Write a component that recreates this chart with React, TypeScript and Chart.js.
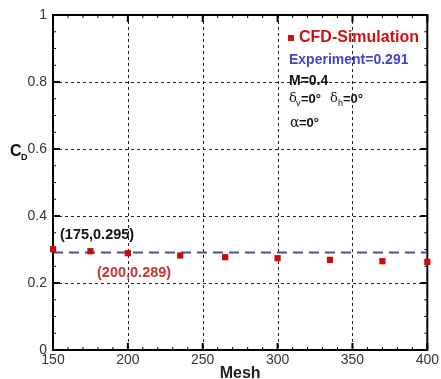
import React, { useEffect, useRef } from "react";
import { Chart, registerables } from "chart.js";

Chart.register(...registerables);

const meshValues = [150, 175, 200, 235, 265, 300, 335, 370, 400];
const cdValues = [0.301, 0.295, 0.289, 0.282, 0.277, 0.274, 0.269, 0.265, 0.263];
const experimentValue = 0.291;
const xTickValues = [150, 200, 250, 300, 350, 400];
const yTickValues = [0, 0.2, 0.4, 0.6, 0.8, 1];
const noteLines = ["M=0.4", "δv=0° δh=0°", "α=0°"];

const FONT = "Arial, 'Liberation Sans', Helvetica, sans-serif";

const framePlugin = {
  id: "frame",
  beforeDatasetsDraw(chart: any) {
    const { ctx, chartArea: a, scales } = chart;
    const xs = scales.x;
    const ys = scales.y;
    ctx.save();
    // dotted grid
    ctx.strokeStyle = "#222";
    ctx.lineWidth = 1;
    ctx.setLineDash([3, 3]);
    xTickValues.slice(1, -1).forEach((v) => {
      const px = Math.round(xs.getPixelForValue(v)) + 0.5;
      ctx.beginPath();
      ctx.moveTo(px, a.top);
      ctx.lineTo(px, a.bottom);
      ctx.stroke();
    });
    yTickValues.slice(1, -1).forEach((v) => {
      const py = Math.round(ys.getPixelForValue(v)) + 0.5;
      ctx.beginPath();
      ctx.moveTo(a.left, py);
      ctx.lineTo(a.right, py);
      ctx.stroke();
    });
    ctx.setLineDash([]);
    // ticks
    ctx.strokeStyle = "#000";
    for (let v = 150; v <= 400; v += 10) {
      const major = (v - 150) % 50 === 0;
      const len = major ? 7 : 3;
      ctx.lineWidth = major ? 2 : 1;
      const px = xs.getPixelForValue(v);
      ctx.beginPath();
      ctx.moveTo(px, a.bottom);
      ctx.lineTo(px, a.bottom - len);
      ctx.moveTo(px, a.top);
      ctx.lineTo(px, a.top + len);
      ctx.stroke();
    }
    for (let i = 0; i <= 20; i++) {
      const v = i * 0.05;
      const major = i % 4 === 0;
      const len = major ? 7 : 3;
      ctx.lineWidth = major ? 2 : 1;
      const py = ys.getPixelForValue(v);
      ctx.beginPath();
      ctx.moveTo(a.left, py);
      ctx.lineTo(a.left + len, py);
      ctx.moveTo(a.right, py);
      ctx.lineTo(a.right - len, py);
      ctx.stroke();
    }
    // frame
    ctx.lineWidth = 2;
    ctx.strokeRect(a.left, a.top, a.right - a.left, a.bottom - a.top);
    ctx.restore();
  },
  afterDraw(chart: any) {
    const { ctx } = chart;
    ctx.save();
    ctx.textBaseline = "middle";
    ctx.textAlign = "left";
    // C_D title
    ctx.fillStyle = "#111";
    ctx.font = `bold 16px ${FONT}`;
    ctx.fillText("C", 10, 152);
    ctx.font = `bold 9px ${FONT}`;
    ctx.fillText("D", 21, 158);
    // legend
    ctx.fillStyle = "#cc1111";
    ctx.fillRect(288, 35, 6, 6);
    ctx.font = `bold 16px ${FONT}`;
    ctx.fillText("CFD-Simulation", 299, 38);
    ctx.fillStyle = "#4444cc";
    ctx.font = `bold 14px ${FONT}`;
    ctx.fillText("Experiment=0.291", 289, 60);
    ctx.fillStyle = "#111";
    ctx.fillText(noteLines[0], 289, 81);
    // delta line
    ctx.font = `13px 'DejaVu Serif', serif`;
    ctx.fillText("δ", 289, 99);
    ctx.font = `9px ${FONT}`;
    ctx.fillText("v", 296, 104);
    ctx.font = `bold 13px ${FONT}`;
    ctx.fillText("=0°", 301, 99);
    ctx.font = `13px 'DejaVu Serif', serif`;
    ctx.fillText("δ", 330, 99);
    ctx.font = `9px ${FONT}`;
    ctx.fillText("h", 338, 104);
    ctx.font = `bold 13px ${FONT}`;
    ctx.fillText("=0°", 343, 99);
    ctx.font = `14px 'DejaVu Serif', serif`;
    ctx.fillText("α", 290, 123);
    ctx.font = `bold 13px ${FONT}`;
    ctx.fillText("=0°", 299, 123);
    // annotations
    ctx.fillStyle = "#111";
    ctx.font = `bold 14.5px ${FONT}`;
    ctx.fillText(`(${meshValues[1]},${cdValues[1].toFixed(3)})`, 60, 235);
    ctx.fillStyle = "#cc3333";
    ctx.fillText(`(${meshValues[2]},${cdValues[2].toFixed(3)})`, 97, 273);
    ctx.restore();
  },
};

export default function App() {
  const ref = useRef<HTMLCanvasElement | null>(null);
  useEffect(() => {
    document.body.style.margin = "0";
    const canvas = ref.current!;
    const chart = new Chart(canvas, {
      type: "scatter",
      data: {
        datasets: [
          {
            label: "Experiment",
            type: "line",
            data: [
              { x: xTickValues[0], y: experimentValue },
              { x: xTickValues[xTickValues.length - 1], y: experimentValue },
            ],
            borderColor: "#4b4ba8",
            borderWidth: 2,
            borderDash: [10, 6],
            pointRadius: 0,
            fill: false,
            order: 2,
          } as any,
          {
            label: "CFD-Simulation",
            data: meshValues.map((m, i) => ({ x: m, y: cdValues[i] })),
            pointStyle: "rect",
            pointRadius: 4.4,
            backgroundColor: "#cc0a0a",
            borderColor: "#cc0a0a",
            borderWidth: 0,
            clip: false,
            order: 1,
          } as any,
        ],
      },
      options: {
        animation: false,
        responsive: false,
        layout: { padding: { top: 15, right: 9, left: 0, bottom: 0 } },
        plugins: { legend: { display: false }, tooltip: { enabled: false } },
        scales: {
          x: {
            type: "linear",
            min: 150,
            max: 400,
            afterBuildTicks: (s: any) => {
              s.ticks = xTickValues.map((v) => ({ value: v }));
            },
            afterFit: (s: any) => {
              s.height = 29;
            },
            grid: { display: false, drawTicks: false },
            border: { display: false },
            ticks: {
              color: "#333",
              font: { size: 14, family: FONT },
              padding: 2,
              maxRotation: 0,
            },
            title: {
              display: true,
              text: "Mesh",
              color: "#222",
              font: { size: 16, weight: "bold", family: FONT },
              padding: { top: 0, bottom: -4 },
            },
          },
          y: {
            type: "linear",
            min: 0,
            max: 1,
            afterBuildTicks: (s: any) => {
              s.ticks = yTickValues.map((v) => ({ value: v }));
            },
            afterFit: (s: any) => {
              s.width = 53;
            },
            grid: { display: false, drawTicks: false },
            border: { display: false },
            ticks: {
              color: "#333",
              font: { size: 14, family: FONT },
              padding: 6,
              callback: (v: any) => String(Math.round(v * 10) / 10),
            },
          },
        },
      },
      plugins: [framePlugin],
    });
    return () => chart.destroy();
  }, []);
  return (
    <div style={{ width: 441, height: 379, position: "relative" }}>
      <canvas ref={ref} width={441} height={379} style={{ display: "block" }} />
    </div>
  );
}
